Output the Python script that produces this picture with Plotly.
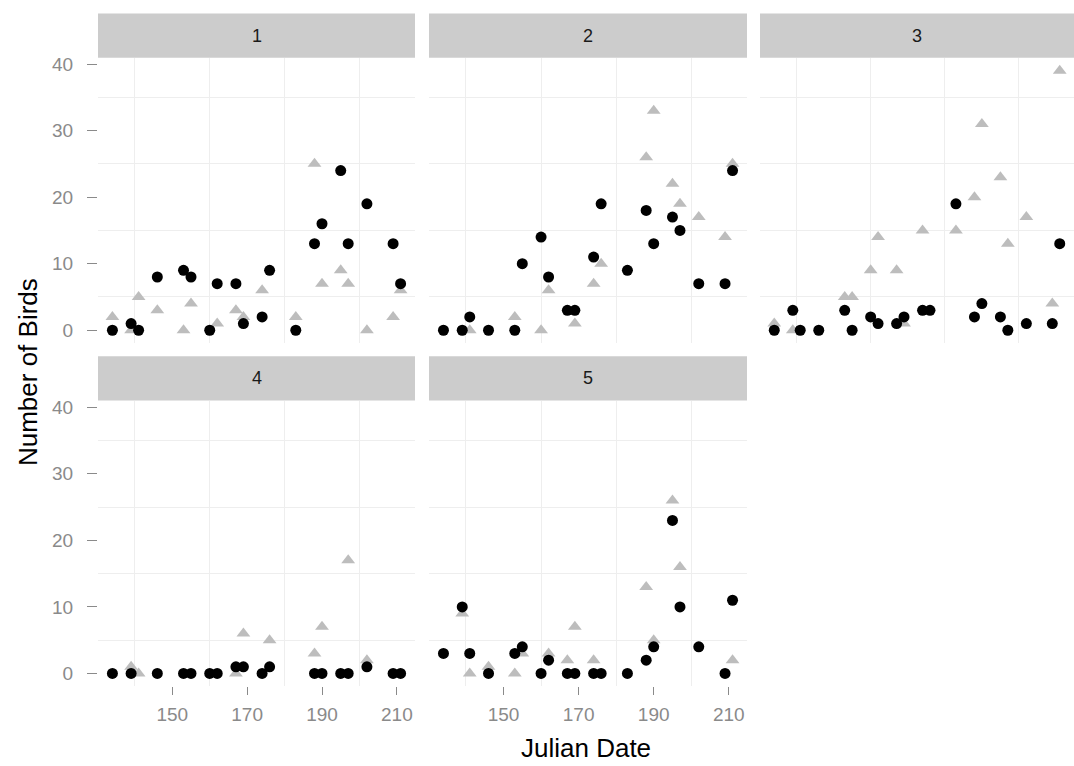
import plotly.graph_objects as go

# Sampling days shared by every site
julian_days = [134, 139, 141, 146, 153, 155, 160, 162, 167, 169,
               174, 176, 183, 188, 190, 195, 197, 202, 209, 211]

# Counts per site (None = no observation)
site_labels = ["1", "2", "3", "4", "5"]

dots_1 = [0, 1, 0, 8, 9, 8, 0, 7, 7, 1, 2, 9, 0, 13, 16, 24, 13, 19, 13, 7]
dots_2 = [0, 0, 2, 0, 0, 10, 14, 8, 3, 3, 11, 19, 9, 18, 13, 17, 15, 7, 7, 24]
dots_3 = [0, 3, 0, 0, 3, 0, 2, 1, 1, 2, 3, 3, 19, 2, 4, 2, 0, 1, 1, 13]
dots_4 = [0, 0, None, 0, 0, 0, 0, 0, 1, 1, 0, 1, None, 0, 0, 0, 0, 1, 0, 0]
dots_5 = [3, 10, 3, 0, 3, 4, 0, 2, 0, 0, 0, 0, 0, 2, 4, 23, 10, 4, 0, 11]

tri_1 = [2, 0, 5, 3, 0, 4, None, 1, 3, 2, 6, None, 2, 25, 7, 9, 7, 0, 2, 6]
tri_2 = [None, None, 0, None, 2, None, 0, 6, None, 1, 7, 10, None, 26, 33, 22, 19, 17, 14, 25]
tri_3 = [1, 0, None, None, 5, 5, 9, 14, 9, 1, 15, None, 15, 20, 31, 23, 13, 17, 4, 39]
tri_4 = [None, 1, 0, None, None, None, None, None, 0, 6, None, 5, None, 3, 7, None, 17, 2, None, None]
tri_5 = [None, 9, 0, 1, 0, 3, None, 3, 2, 7, 2, None, None, 13, 5, 26, 16, None, None, 2]

dot_series = [dots_1, dots_2, dots_3, dots_4, dots_5]
tri_series = [tri_1, tri_2, tri_3, tri_4, tri_5]

x_ticks = [150, 170, 190, 210]
x_minor = [140, 160, 180, 200]
y_ticks = [0, 10, 20, 30, 40]
y_minor = [5, 15, 25, 35]

W, H = 1074, 766
FONT = "Liberation Sans, Arial, sans-serif"
TICK_GREY = "#8a8a8a"
GRID = "#eeeeee"

# panel geometry in pixels
col_x = [(98, 415), (429, 747), (760, 1074)]
row_plot = [(54, 341), (399, 686)]
row_strip = [(9.5, 54), (354, 398.5)]

fig = go.Figure()
layout = {}
shapes = []
annotations = []

for i in range(5):
    r, c = divmod(i, 3)
    n = i + 1
    xa = "x" if n == 1 else f"x{n}"
    ya = "y" if n == 1 else f"y{n}"

    fig.add_trace(go.Scatter(
        x=julian_days, y=tri_series[i], mode="markers", xaxis=xa, yaxis=ya,
        marker=dict(symbol="triangle-up", size=12, color="#bdbdbd", line=dict(width=0)),
        showlegend=False, hoverinfo="x+y"))
    fig.add_trace(go.Scatter(
        x=julian_days, y=dot_series[i], mode="markers", xaxis=xa, yaxis=ya,
        marker=dict(symbol="circle", size=11, color="#000000", line=dict(width=0)),
        showlegend=False, hoverinfo="x+y"))

    x0, x1 = col_x[c]
    y0, y1 = row_plot[r]
    show_x = r == 1
    show_y = c == 0
    layout["xaxis" if n == 1 else f"xaxis{n}"] = dict(
        domain=[x0 / W, x1 / W], anchor=ya, range=[130.15, 214.85],
        tickmode="array", tickvals=x_ticks, showticklabels=show_x,
        ticks="outside" if show_x else "", ticklen=8, tickcolor=TICK_GREY, tickwidth=1,
        ticklabelstandoff=3,
        tickfont=dict(family=FONT, size=19, color=TICK_GREY),
        showgrid=False, zeroline=False, showline=False,
        minor=dict(tickmode="array", tickvals=x_minor, showgrid=True,
                   gridcolor=GRID, gridwidth=1, ticks=""),
        fixedrange=True)
    layout["yaxis" if n == 1 else f"yaxis{n}"] = dict(
        domain=[1 - y1 / H, 1 - y0 / H], anchor=xa, range=[-1.95, 40.95],
        tickmode="array", tickvals=y_ticks, showticklabels=show_y,
        ticks="outside" if show_y else "", ticklen=10, tickcolor=TICK_GREY, tickwidth=1,
        ticklabelstandoff=10,
        tickfont=dict(family=FONT, size=19, color=TICK_GREY),
        showgrid=False, zeroline=False, showline=False,
        minor=dict(tickmode="array", tickvals=y_minor, showgrid=True,
                   gridcolor=GRID, gridwidth=1, ticks=""),
        fixedrange=True)

    # facet strip
    s0, s1 = row_strip[r]
    shapes.append(dict(type="rect", xref="paper", yref="paper",
                       x0=x0 / W, x1=x1 / W, y0=1 - s1 / H, y1=1 - s0 / H,
                       fillcolor="#cccccc", line=dict(width=0), layer="below"))
    annotations.append(dict(text=site_labels[i], xref="paper", yref="paper",
                            x=(x0 + x1) / 2 / W, y=1 - (s0 + s1) / 2 / H,
                            showarrow=False, xanchor="center", yanchor="middle",
                            font=dict(family=FONT, size=18, color="#1a1a1a")))

annotations.append(dict(text="Julian Date", xref="paper", yref="paper",
                        x=586 / W, y=1 - 748 / H, showarrow=False,
                        xanchor="center", yanchor="middle",
                        font=dict(family=FONT, size=26, color="#000000")))
annotations.append(dict(text="Number of Birds", xref="paper", yref="paper",
                        x=28 / W, y=1 - 370 / H, showarrow=False, textangle=-90,
                        xanchor="center", yanchor="middle",
                        font=dict(family=FONT, size=26, color="#000000")))

fig.update_layout(
    width=W, height=H, margin=dict(l=0, r=0, t=0, b=0),
    paper_bgcolor="white", plot_bgcolor="white",
    shapes=shapes, annotations=annotations, **layout)

fig.write_html("out.html")
